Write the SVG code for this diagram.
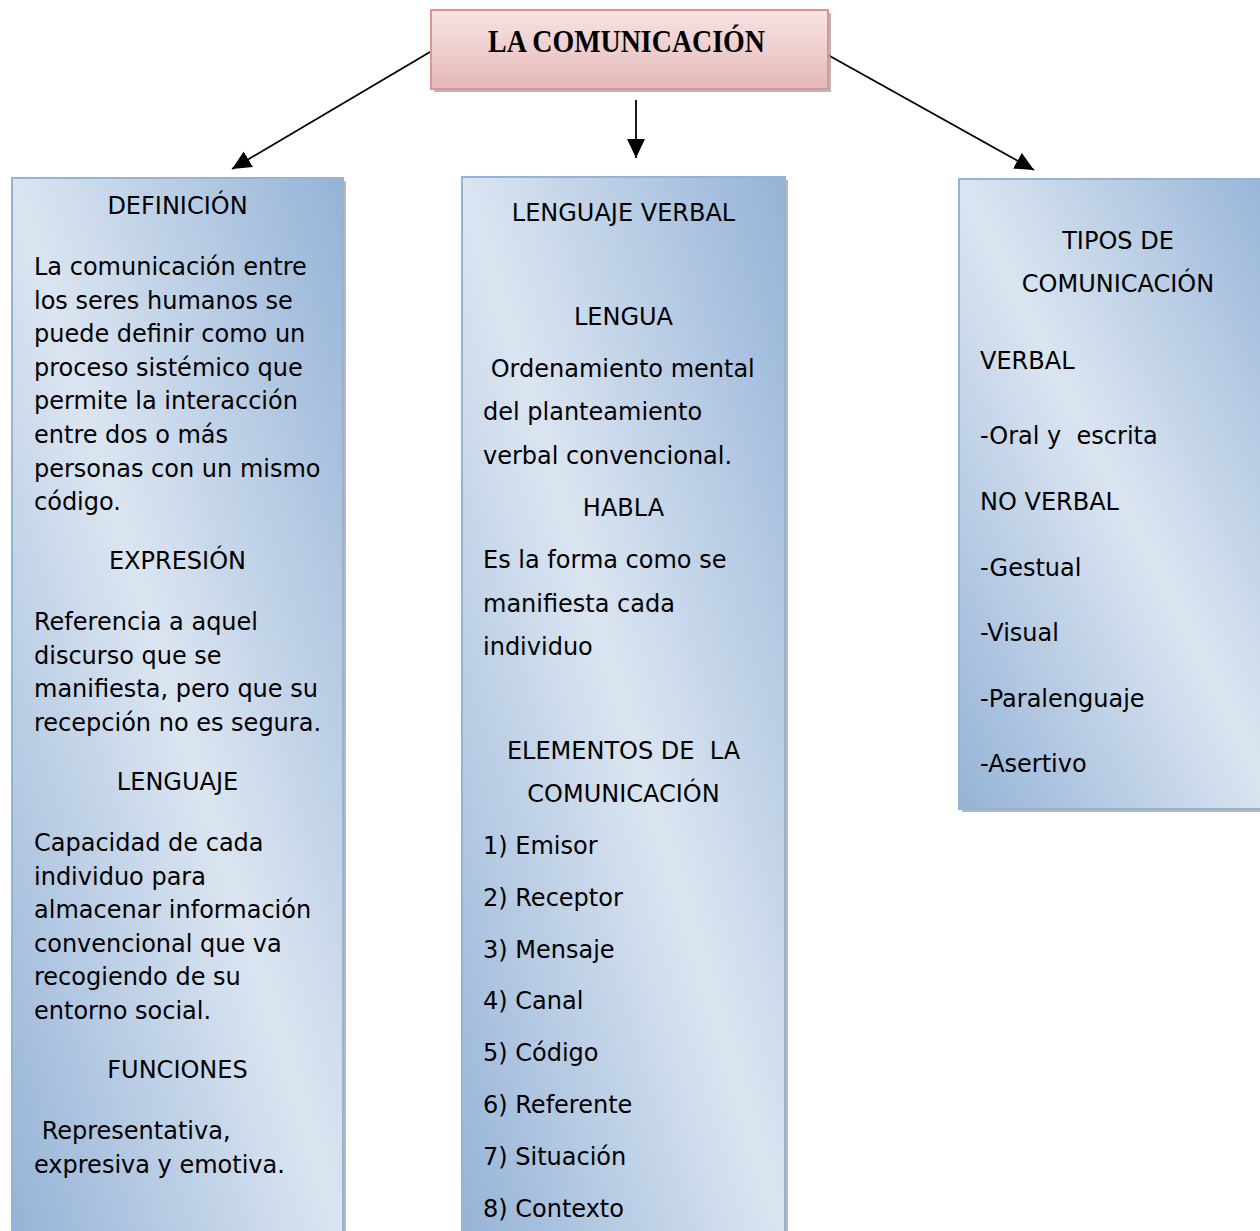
<svg xmlns="http://www.w3.org/2000/svg" width="1260" height="1231" viewBox="0 0 1260 1231">
<style>
.t{font-family:"DejaVu Sans","Verdana",sans-serif;font-size:24px;fill:#000;white-space:pre}
.c{text-anchor:middle}
.box{fill:url(#blueG);stroke:#95b3d7;stroke-width:2}
.sh{fill:#9a9a9a;opacity:0.7}
.conn{stroke:#000;stroke-width:1.8;fill:none;marker-end:url(#ah)}
</style>
<defs>
<linearGradient id="blueG" x1="1" y1="0" x2="0" y2="1">
<stop offset="0" stop-color="#95b3d7"/>
<stop offset="0.5" stop-color="#dbe5f1"/>
<stop offset="1" stop-color="#95b3d7"/>
</linearGradient>
<linearGradient id="pinkG" x1="0" y1="0" x2="0" y2="1">
<stop offset="0" stop-color="#f7e4e4"/>
<stop offset="1" stop-color="#e5b8b7"/>
</linearGradient>
<marker id="ah" markerUnits="userSpaceOnUse" markerWidth="22" markerHeight="20" refX="19" refY="9" orient="auto">
<path d="M0,0 L19,9 L0,18 Z" fill="#000"/>
</marker>
</defs>
<rect width="1260" height="1231" fill="#fff"/>

<g id="connectors">
<line class="conn" x1="430" y1="52" x2="232" y2="169"/>
<line class="conn" x1="636" y1="100" x2="636" y2="158"/>
<line class="conn" x1="828" y1="55" x2="1034" y2="170"/>
</g>

<g id="title">
<rect class="sh" x="434" y="13" width="397" height="79"/>
<rect x="431" y="10" width="397" height="79" fill="url(#pinkG)" stroke="#d99694" stroke-width="2"/>
<text x="488" y="52" textLength="277" lengthAdjust="spacingAndGlyphs" font-family="'Liberation Serif','Times New Roman',serif" font-weight="bold" font-size="31">LA COMUNICACIÓN</text>
</g>

<g id="definicion">
<rect class="sh" x="15" y="181" width="331" height="1060"/>
<rect class="box" x="12" y="178" width="331" height="1060"/>
<text class="t c" x="177.5" y="214">DEFINICIÓN</text>
<text class="t" x="34" y="275">La comunicación entre</text>
<text class="t" x="34" y="308.5">los seres humanos se</text>
<text class="t" x="34" y="342">puede definir como un</text>
<text class="t" x="34" y="375.5">proceso sistémico que</text>
<text class="t" x="34" y="409">permite la interacción</text>
<text class="t" x="34" y="443">entre dos o más</text>
<text class="t" x="34" y="476.5">personas con un mismo</text>
<text class="t" x="34" y="510">código.</text>
<text class="t c" x="177.5" y="569">EXPRESIÓN</text>
<text class="t" x="34" y="630">Referencia a aquel</text>
<text class="t" x="34" y="664">discurso que se</text>
<text class="t" x="34" y="697">manifiesta, pero que su</text>
<text class="t" x="34" y="731">recepción no es segura.</text>
<text class="t c" x="177.5" y="790">LENGUAJE</text>
<text class="t" x="34" y="851">Capacidad de cada</text>
<text class="t" x="34" y="885">individuo para</text>
<text class="t" x="34" y="918">almacenar información</text>
<text class="t" x="34" y="952">convencional que va</text>
<text class="t" x="34" y="985">recogiendo de su</text>
<text class="t" x="34" y="1019">entorno social.</text>
<text class="t c" x="177.5" y="1078">FUNCIONES</text>
<text class="t" x="34" y="1139"> Representativa,</text>
<text class="t" x="34" y="1173">expresiva y emotiva.</text>
</g>

<g id="lenguaje-verbal">
<rect class="sh" x="465" y="180" width="323" height="1060"/>
<rect class="box" x="462" y="177" width="323" height="1060"/>
<text class="t c" x="623.5" y="221">LENGUAJE VERBAL</text>
<text class="t c" x="623.5" y="325">LENGUA</text>
<text class="t" x="483" y="377"> Ordenamiento mental</text>
<text class="t" x="483" y="420">del planteamiento</text>
<text class="t" x="483" y="464">verbal convencional.</text>
<text class="t c" x="623.5" y="516">HABLA</text>
<text class="t" x="483" y="568">Es la forma como se</text>
<text class="t" x="483" y="612">manifiesta cada</text>
<text class="t" x="483" y="655">individuo</text>
<text class="t c" x="623.5" y="759">ELEMENTOS DE  LA</text>
<text class="t c" x="623.5" y="802">COMUNICACIÓN</text>
<text class="t" x="483" y="854">1) Emisor</text>
<text class="t" x="483" y="906">2) Receptor</text>
<text class="t" x="483" y="958">3) Mensaje</text>
<text class="t" x="483" y="1009">4) Canal</text>
<text class="t" x="483" y="1061">5) Código</text>
<text class="t" x="483" y="1113">6) Referente</text>
<text class="t" x="483" y="1165">7) Situación</text>
<text class="t" x="483" y="1217">8) Contexto</text>
</g>

<g id="tipos">
<rect class="sh" x="962" y="182" width="320" height="630"/>
<rect class="box" x="959" y="179" width="320" height="630"/>
<text class="t c" x="1118" y="249">TIPOS DE</text>
<text class="t c" x="1118" y="292">COMUNICACIÓN</text>
<text class="t" x="980" y="369">VERBAL</text>
<text class="t" x="980" y="444">-Oral y  escrita</text>
<text class="t" x="980" y="510">NO VERBAL</text>
<text class="t" x="980" y="576">-Gestual</text>
<text class="t" x="980" y="641">-Visual</text>
<text class="t" x="980" y="707">-Paralenguaje</text>
<text class="t" x="980" y="772">-Asertivo</text>
</g>
</svg>
